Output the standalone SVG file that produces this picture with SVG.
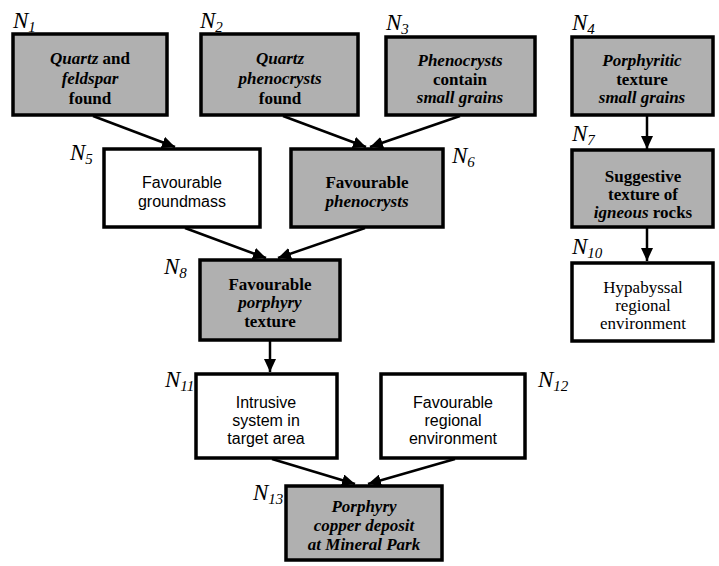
<svg xmlns="http://www.w3.org/2000/svg" width="719" height="566" viewBox="0 0 719 566">
<style>
.box{stroke:#000;stroke-width:3.5}
.sh{fill:#b0b0b0}
.wh{fill:#fff}
.st{font-size:17px;font-weight:bold;fill:#000;text-anchor:middle}
.it{font-style:italic}
.wt{font-size:16px;fill:#000;text-anchor:middle}
.wts{font-size:17px;fill:#000;text-anchor:middle}
.lb{font-size:23px;font-style:italic;fill:#000}
.sub{font-size:15px}
.cn{stroke:#000;stroke-width:2.5;fill:none;marker-end:url(#ah)}
</style>
<defs>
<marker id="ah" markerUnits="userSpaceOnUse" markerWidth="14" markerHeight="12" refX="13" refY="6" orient="auto">
<path d="M0,0 L13,6 L0,12 z" fill="#000"/>
</marker>
</defs>
<g id="connectors">
<line class="cn" x1="93" y1="116" x2="175" y2="147"/>
<line class="cn" x1="283" y1="116" x2="366" y2="147"/>
<line class="cn" x1="460" y1="116" x2="370" y2="147"/>
<line class="cn" x1="647" y1="116" x2="647" y2="149"/>
<line class="cn" x1="647" y1="228" x2="647" y2="261"/>
<line class="cn" x1="185" y1="228" x2="266" y2="258"/>
<line class="cn" x1="365" y1="228" x2="278" y2="258"/>
<line class="cn" x1="270" y1="341" x2="270" y2="372"/>
<line class="cn" x1="272" y1="459" x2="355" y2="484"/>
<line class="cn" x1="455" y1="459" x2="368" y2="484"/>
</g>
<g id="N1">
<rect class="box sh" x="13" y="34" width="154" height="81"/>
<text class="st" font-family="Liberation Serif, DejaVu Serif, Times New Roman, serif"><tspan x="90" y="64"><tspan class="it">Quartz</tspan> and</tspan><tspan class="it" x="90" y="84">feldspar</tspan><tspan x="90" y="104">found</tspan></text>
<text class="lb" font-family="Liberation Serif, DejaVu Serif, Times New Roman, serif" x="13" y="28">N<tspan class="sub" dy="4">1</tspan></text>
</g>
<g id="N2">
<rect class="box sh" x="201" y="34" width="157" height="81"/>
<text class="st" font-family="Liberation Serif, DejaVu Serif, Times New Roman, serif"><tspan class="it" x="280" y="64">Quartz</tspan><tspan class="it" x="280" y="84">phenocrysts</tspan><tspan x="280" y="104">found</tspan></text>
<text class="lb" font-family="Liberation Serif, DejaVu Serif, Times New Roman, serif" x="200" y="28">N<tspan class="sub" dy="4">2</tspan></text>
</g>
<g id="N3">
<rect class="box sh" x="386" y="37" width="149" height="78"/>
<text class="st" font-family="Liberation Serif, DejaVu Serif, Times New Roman, serif"><tspan class="it" x="460" y="66">Phenocrysts</tspan><tspan x="460" y="85">contain</tspan><tspan class="it" x="460" y="103">small grains</tspan></text>
<text class="lb" font-family="Liberation Serif, DejaVu Serif, Times New Roman, serif" x="386" y="30">N<tspan class="sub" dy="4">3</tspan></text>
</g>
<g id="N4">
<rect class="box sh" x="572" y="37" width="141" height="78"/>
<text class="st" font-family="Liberation Serif, DejaVu Serif, Times New Roman, serif"><tspan class="it" x="642" y="66">Porphyritic</tspan><tspan x="642" y="85">texture</tspan><tspan class="it" x="642" y="103">small grains</tspan></text>
<text class="lb" font-family="Liberation Serif, DejaVu Serif, Times New Roman, serif" x="572" y="30">N<tspan class="sub" dy="4">4</tspan></text>
</g>
<g id="N5">
<rect class="wh box" x="104" y="149" width="156" height="78"/>
<text class="wt" font-family="Liberation Sans, Arial, sans-serif"><tspan x="182" y="188">Favourable</tspan><tspan x="182" y="207">groundmass</tspan></text>
<text class="lb" font-family="Liberation Serif, DejaVu Serif, Times New Roman, serif" x="70" y="160">N<tspan class="sub" dy="4">5</tspan></text>
</g>
<g id="N6">
<rect class="box sh" x="291" y="149" width="152" height="78"/>
<text class="st" font-family="Liberation Serif, DejaVu Serif, Times New Roman, serif"><tspan x="367" y="188">Favourable</tspan><tspan class="it" x="367" y="207">phenocrysts</tspan></text>
<text class="lb" font-family="Liberation Serif, DejaVu Serif, Times New Roman, serif" x="452" y="163">N<tspan class="sub" dy="4">6</tspan></text>
</g>
<g id="N7">
<rect class="box sh" x="572" y="150" width="141" height="77"/>
<text class="st" font-family="Liberation Serif, DejaVu Serif, Times New Roman, serif"><tspan x="643" y="182">Suggestive</tspan><tspan x="643" y="200">texture of</tspan><tspan x="643" y="218"><tspan class="it">igneous</tspan> rocks</tspan></text>
<text class="lb" font-family="Liberation Serif, DejaVu Serif, Times New Roman, serif" x="572" y="141">N<tspan class="sub" dy="4">7</tspan></text>
</g>
<g id="N8">
<rect class="box sh" x="200" y="260" width="140" height="80"/>
<text class="st" font-family="Liberation Serif, DejaVu Serif, Times New Roman, serif"><tspan x="270" y="290">Favourable</tspan><tspan class="it" x="270" y="308">porphyry</tspan><tspan x="270" y="327">texture</tspan></text>
<text class="lb" font-family="Liberation Serif, DejaVu Serif, Times New Roman, serif" x="164" y="274">N<tspan class="sub" dy="4">8</tspan></text>
</g>
<g id="N10">
<rect class="wh box" x="572" y="263" width="141" height="78"/>
<text class="wts" font-family="Liberation Serif, DejaVu Serif, Times New Roman, serif"><tspan x="643" y="293">Hypabyssal</tspan><tspan x="643" y="311">regional</tspan><tspan x="643" y="329">environment</tspan></text>
<text class="lb" font-family="Liberation Serif, DejaVu Serif, Times New Roman, serif" x="572" y="254">N<tspan class="sub" dy="4">10</tspan></text>
</g>
<g id="N11">
<rect class="wh box" x="196" y="374" width="141" height="84"/>
<text class="wt" font-family="Liberation Sans, Arial, sans-serif"><tspan x="266" y="408">Intrusive</tspan><tspan x="266" y="426">system in</tspan><tspan x="266" y="444">target area</tspan></text>
<text class="lb" font-family="Liberation Serif, DejaVu Serif, Times New Roman, serif" x="165" y="387">N<tspan class="sub" dy="4">11</tspan></text>
</g>
<g id="N12">
<rect class="wh box" x="381" y="374" width="144" height="84"/>
<text class="wt" font-family="Liberation Sans, Arial, sans-serif"><tspan x="453" y="408">Favourable</tspan><tspan x="453" y="426">regional</tspan><tspan x="453" y="444">environment</tspan></text>
<text class="lb" font-family="Liberation Serif, DejaVu Serif, Times New Roman, serif" x="538" y="387">N<tspan class="sub" dy="4">12</tspan></text>
</g>
<g id="N13">
<rect class="box sh" x="286" y="486" width="156" height="74"/>
<text class="st it" font-family="Liberation Serif, DejaVu Serif, Times New Roman, serif"><tspan x="364" y="512">Porphyry</tspan><tspan x="364" y="531">copper deposit</tspan><tspan x="364" y="550">at Mineral Park</tspan></text>
<text class="lb" font-family="Liberation Serif, DejaVu Serif, Times New Roman, serif" x="253" y="500">N<tspan class="sub" dy="4">13</tspan></text>
</g>
</svg>
